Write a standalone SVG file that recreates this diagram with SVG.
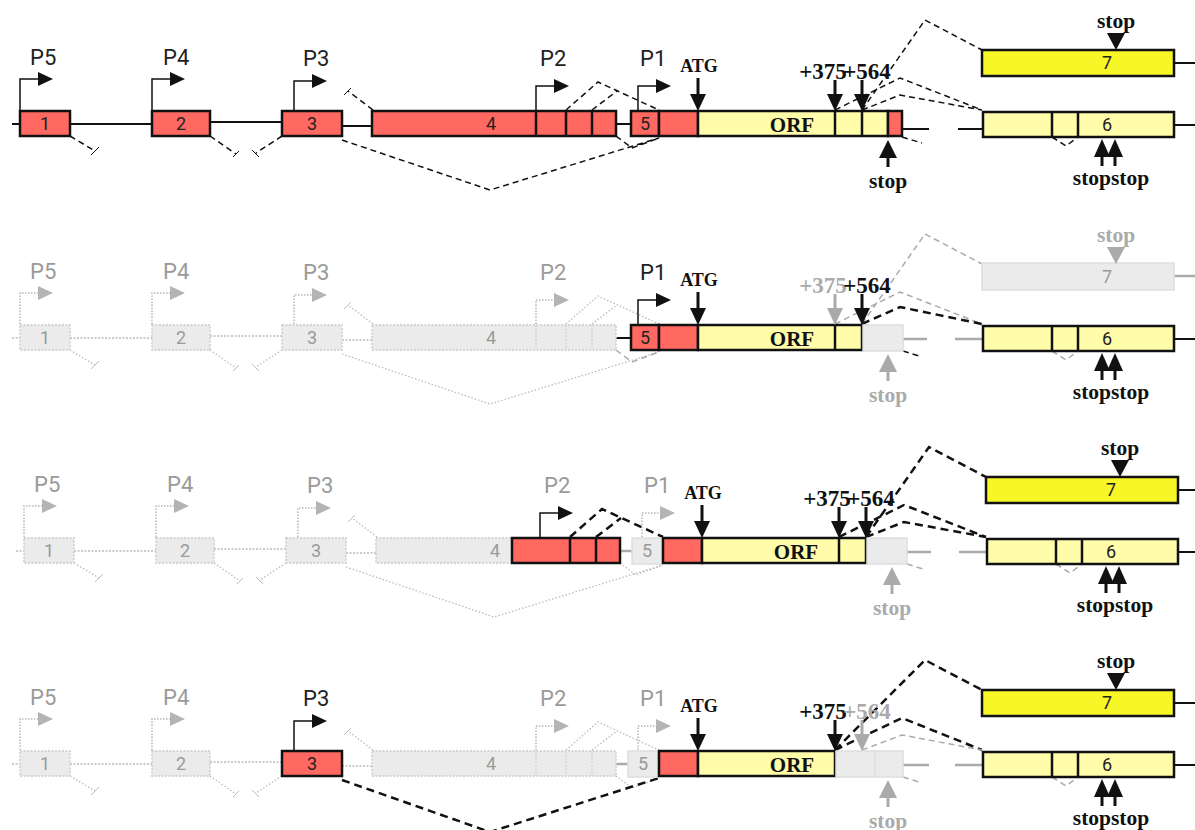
<svg xmlns="http://www.w3.org/2000/svg" width="1195" height="830" viewBox="0 0 1195 830">
<style>
.red{fill:#ff6961;stroke:#111;stroke-width:2.5}
.orf{fill:#fffcaa;stroke:#111;stroke-width:2.5}
.e7{fill:#f7f728;stroke:#111;stroke-width:2.5}
.gx{fill:#ebebeb;stroke:#d4d4d4;stroke-width:1.8;stroke-dasharray:2 1.5}
.gs{fill:#ebebeb;stroke:#dedede;stroke-width:1.5}
.sep{stroke:#111;stroke-width:2.5}
.gsep{stroke:#d4d4d4;stroke-width:1.5;stroke-dasharray:2 1.5}
.num{font-family:Roboto,"Noto Sans",sans-serif;font-size:18px;fill:#222;text-anchor:middle}
.gnum{font-family:Roboto,"Noto Sans",sans-serif;font-size:18px;fill:#9a9a9a;text-anchor:middle}
.pl{font-family:Roboto,"Noto Sans",sans-serif;font-size:22px;fill:#222}
.gpl{font-family:Roboto,"Noto Sans",sans-serif;font-size:22px;fill:#9a9a9a}
.pa{fill:none;stroke:#111;stroke-width:1.5}
.gpa{fill:none;stroke:#b8b8b8;stroke-width:1.5;stroke-dasharray:1.5 1.5}
.ph{fill:#111}
.gph{fill:#b4b4b4}
.lb{font-family:"Liberation Serif","Times New Roman",serif;font-weight:bold;fill:#111;text-anchor:middle}
.glb{font-family:"Liberation Serif","Times New Roman",serif;font-weight:bold;fill:#aaa;text-anchor:middle}
.atg{font-size:18px}
.pos{font-size:23px}
.orft{font-size:21px}
.st{font-size:21.5px}
.sh{stroke:#111;stroke-width:3;fill:none}
.gsh{stroke:#aaa;stroke-width:3;fill:none}
.ah{fill:#111}
.gah{fill:#aaa}
.bb{fill:none;stroke:#111;stroke-width:2}
.gbb{fill:none;stroke:#bbb;stroke-width:1.5;stroke-dasharray:2 1.5}
.gln{fill:none;stroke:#aaa;stroke-width:2.5}
.dk{fill:none;stroke:#111;stroke-width:1.5;stroke-dasharray:6 4}
.dkb{fill:none;stroke:#111;stroke-width:2.5;stroke-dasharray:8 5}
.dg{fill:none;stroke:#aaa;stroke-width:1.5;stroke-dasharray:6 4}
.dd{fill:none;stroke:#bbb;stroke-width:1.3;stroke-dasharray:1.5 2}
.tk{fill:none;stroke:#111;stroke-width:1}
.gtk{fill:none;stroke:#bbb;stroke-width:1}
</style>

<g id="connectors">
  <g id="c-row1">
    <path class="bb" d="M12,124H20 M70,124H152 M210,122H282 M342,126H372 M616,124H631 M902,129H929 M958,129H983 M1174,63H1195 M1174,125H1195"/>
    <path class="dk" d="M70,136L95,151 M210,136L236,154 M282,136L256,153 M373,110L348,91 M342,140L490,190L659,138 M616,136L632,148L659,138 M566,110L598,82L659,110 M592,110L617,91 M835,110L900,78L982,110 M862,110L900,95L982,110 M862,110L925,20L982,50 M902,137L922,143 M1052,137L1066,146L1078,137"/>
    <path class="tk" d="M91,155L99,147 M233,157L239,151 M252,150L259,157 M344,95L351,88"/>
  </g>
  <g id="c-row2" transform="translate(0,214)">
    <path class="gbb" d="M12,124H20 M70,124H152 M210,122H282 M342,126H372"/>
    <path class="bb" d="M616,124H631 M1174,125H1195"/>
    <path class="gln" d="M903,125H927 M955,125H982 M1174,62H1195"/>
    <path class="dd" d="M70,136L95,151 M210,136L236,154 M282,136L256,153 M373,110L348,91 M342,140L490,190L659,138 M566,110L598,82L659,110 M592,110L617,91"/>
    <path class="gtk" d="M91,155L99,147 M233,157L239,151 M252,150L259,157 M344,95L351,88"/>
    <path class="dg" d="M616,136L632,148L659,138 M835,110L900,78L982,110 M862,110L925,20L982,50 M1052,137L1066,146L1078,137"/>
    <path class="dkb" d="M862,110L900,93L982,110"/>
    <path class="dk" d="M903,137L922,143"/>
  </g>
  <g id="c-row3" transform="translate(4,427)">
    <path class="gbb" d="M12,124H20 M70,124H152 M210,122H282 M342,126H372"/>
    <path class="bb" d="M1174,63H1195 M1174,125H1195"/>
    <path class="gln" d="M616,124H631 M903,125H927 M955,125H982"/>
    <path class="dd" d="M70,136L95,151 M210,136L236,154 M282,136L256,153 M373,110L348,91 M342,140L490,190L659,138 M616,136L632,148L659,138"/>
    <path class="gtk" d="M91,155L99,147 M233,157L239,151 M252,150L259,157 M344,95L351,88"/>
    <path class="dkb" d="M566,110L598,82L659,110 M592,110L617,91 M835,110L900,78L982,110 M862,110L900,95L982,110 M862,110L925,20L982,50"/>
    <path class="dg" d="M903,137L922,143 M1052,137L1066,146L1078,137"/>
  </g>
  <g id="c-row4" transform="translate(0,640)">
    <path class="gbb" d="M12,124H20 M70,124H152 M210,122H282 M342,126H372"/>
    <path class="bb" d="M1174,63H1195 M1174,125H1195"/>
    <path class="gln" d="M616,124H628 M903,125H929 M955,125H982"/>
    <path class="dd" d="M70,136L95,151 M210,136L236,154 M282,136L256,153 M373,110L348,91 M566,110L598,82L659,110 M592,110L617,91 M616,136L632,148L659,138"/>
    <path class="gtk" d="M91,155L99,147 M233,157L239,151 M252,150L259,157 M344,95L351,88"/>
    <path class="dkb" d="M342,140L490,192L659,138 M835,110L925,20L982,50 M835,110L902,78L982,110"/>
    <path class="dg" d="M862,110L902,95L982,110 M903,137L922,143 M1052,137L1066,146L1078,137"/>
  </g>
</g>

<g id="row1">
  <g id="r1-P5"><path class="pa" d="M20,110V79H38"/><polygon class="ph" points="38,72 53,79 38,86"/><text class="pl" x="30" y="65">P5</text></g>
  <g id="r1-P4"><path class="pa" d="M152,110V79H170"/><polygon class="ph" points="170,72 185,79 170,86"/><text class="pl" x="163" y="65">P4</text></g>
  <g id="r1-P3"><path class="pa" d="M294,110V81H312"/><polygon class="ph" points="312,74 327,81 312,88"/><text class="pl" x="303" y="66">P3</text></g>
  <g id="r1-P2"><path class="pa" d="M536,110V86H554"/><polygon class="ph" points="554,79 569,86 554,93"/><text class="pl" x="540" y="66">P2</text></g>
  <g id="r1-P1"><path class="pa" d="M638,110V86H656"/><polygon class="ph" points="656,79 671,86 656,93"/><text class="pl" x="640" y="66">P1</text></g>
  <g id="r1-exon1"><rect class="red" x="20" y="111" width="50" height="25"/><text class="num" x="45" y="130">1</text></g>
  <g id="r1-exon2"><rect class="red" x="152" y="111" width="58" height="25"/><text class="num" x="181" y="130">2</text></g>
  <g id="r1-exon3"><rect class="red" x="282" y="111" width="60" height="25"/><text class="num" x="312" y="130">3</text></g>
  <g id="r1-exon4"><rect class="red" x="372" y="111" width="244" height="25"/><path class="sep" d="M536,111V136M566,111V136M592,111V136"/><text class="num" x="491" y="130">4</text></g>
  <g id="r1-exon5"><rect class="red" x="631" y="111" width="28" height="25"/><text class="num" x="645" y="130">5</text></g>
  <g id="r1-utr5"><rect class="red" x="659" y="111" width="39" height="25"/></g>
  <g id="r1-orf"><rect class="orf" x="698" y="111" width="190" height="25"/><path class="sep" d="M835,111V136M862,111V136"/><text class="lb orft" x="792" y="132">ORF</text></g>
  <g id="r1-utr3"><rect class="red" x="888" y="111" width="14" height="25"/></g>
  <g id="r1-exon7"><rect class="e7" x="982" y="50" width="192" height="26"/><text class="num" x="1107" y="69">7</text></g>
  <g id="r1-exon6"><rect class="orf" x="983" y="112" width="191" height="25"/><path class="sep" d="M1052,112V137M1078,112V137"/><text class="num" x="1107" y="131">6</text></g>
  <g id="r1-ATG"><text class="lb atg" x="699" y="72">ATG</text><line class="sh" x1="698" y1="78" x2="698" y2="96"/><polygon class="ah" points="690,94 706,94 698,111"/></g>
  <g id="r1-375"><text class="lb pos" x="823" y="79">+375</text><line class="sh" x1="835" y1="80" x2="835" y2="96"/><polygon class="ah" points="827,94 843,94 835,111"/></g>
  <g id="r1-564"><text class="lb pos" x="867" y="79">+564</text><line class="sh" x1="862" y1="80" x2="862" y2="96"/><polygon class="ah" points="854,94 870,94 862,111"/></g>
  <g id="r1-stop"><polygon class="ah" points="879,158 897,158 888,140"/><line class="sh" x1="888" y1="156" x2="888" y2="167"/><text class="lb st" x="888" y="188">stop</text></g>
  <g id="r1-stop7"><text class="lb st" x="1116" y="28">stop</text><polygon class="ah" points="1107,33 1125,33 1116,50"/></g>
  <g id="r1-stop6"><polygon class="ah" points="1094,157 1110,157 1102,139"/><polygon class="ah" points="1107,157 1123,157 1115,139"/><path class="sh" d="M1102,155V166M1115,155V166"/><text class="lb st" x="1111" y="185">stopstop</text></g>
</g>

<g id="row2" transform="translate(0,214)">
  <g id="r2-P5"><path class="gpa" d="M20,110V79H38"/><polygon class="gph" points="38,72 53,79 38,86"/><text class="gpl" x="30" y="65">P5</text></g>
  <g id="r2-P4"><path class="gpa" d="M152,110V79H170"/><polygon class="gph" points="170,72 185,79 170,86"/><text class="gpl" x="163" y="65">P4</text></g>
  <g id="r2-P3"><path class="gpa" d="M294,110V81H312"/><polygon class="gph" points="312,74 327,81 312,88"/><text class="gpl" x="303" y="66">P3</text></g>
  <g id="r2-P2"><path class="gpa" d="M536,110V86H554"/><polygon class="gph" points="554,79 569,86 554,93"/><text class="gpl" x="540" y="66">P2</text></g>
  <g id="r2-P1"><path class="pa" d="M638,110V86H656"/><polygon class="ph" points="656,79 671,86 656,93"/><text class="pl" x="640" y="66">P1</text></g>
  <g id="r2-exon1"><rect class="gx" x="20" y="111" width="50" height="25"/><text class="gnum" x="45" y="130">1</text></g>
  <g id="r2-exon2"><rect class="gx" x="152" y="111" width="58" height="25"/><text class="gnum" x="181" y="130">2</text></g>
  <g id="r2-exon3"><rect class="gx" x="282" y="111" width="60" height="25"/><text class="gnum" x="312" y="130">3</text></g>
  <g id="r2-exon4"><rect class="gx" x="372" y="111" width="244" height="25"/><path class="gsep" d="M536,111V136M566,111V136M592,111V136"/><text class="gnum" x="491" y="130">4</text></g>
  <g id="r2-exon5"><rect class="red" x="631" y="111" width="28" height="25"/><text class="num" x="645" y="130">5</text></g>
  <g id="r2-utr5"><rect class="red" x="659" y="111" width="39" height="25"/></g>
  <g id="r2-orf"><rect class="orf" x="698" y="111" width="164" height="25"/><path class="sep" d="M835,111V136"/><text class="lb orft" x="792" y="132">ORF</text></g>
  <g id="r2-utr3"><rect class="gs" x="863" y="111" width="40" height="26"/></g>
  <g id="r2-exon7"><rect class="gs" x="982" y="49" width="192" height="27"/><text class="gnum" x="1107" y="69">7</text></g>
  <g id="r2-exon6"><rect class="orf" x="983" y="112" width="191" height="25"/><path class="sep" d="M1052,112V137M1078,112V137"/><text class="num" x="1107" y="131">6</text></g>
  <g id="r2-ATG"><text class="lb atg" x="699" y="72">ATG</text><line class="sh" x1="698" y1="78" x2="698" y2="96"/><polygon class="ah" points="690,94 706,94 698,111"/></g>
  <g id="r2-375"><text class="glb pos" x="823" y="79">+375</text><line class="gsh" x1="835" y1="80" x2="835" y2="96"/><polygon class="gah" points="827,94 843,94 835,111"/></g>
  <g id="r2-564"><text class="lb pos" x="867" y="79">+564</text><line class="sh" x1="862" y1="80" x2="862" y2="96"/><polygon class="ah" points="854,94 870,94 862,111"/></g>
  <g id="r2-stop"><polygon class="gah" points="879,158 897,158 888,140"/><line class="gsh" x1="888" y1="156" x2="888" y2="167"/><text class="glb st" x="888" y="188">stop</text></g>
  <g id="r2-stop7"><text class="glb st" x="1116" y="28">stop</text><polygon class="gah" points="1107,33 1125,33 1116,50"/></g>
  <g id="r2-stop6"><polygon class="ah" points="1094,157 1110,157 1102,139"/><polygon class="ah" points="1107,157 1123,157 1115,139"/><path class="sh" d="M1102,155V166M1115,155V166"/><text class="lb st" x="1111" y="185">stopstop</text></g>
</g>

<g id="row3" transform="translate(4,427)">
  <g id="r3-P5"><path class="gpa" d="M20,110V79H38"/><polygon class="gph" points="38,72 53,79 38,86"/><text class="gpl" x="30" y="65">P5</text></g>
  <g id="r3-P4"><path class="gpa" d="M152,110V79H170"/><polygon class="gph" points="170,72 185,79 170,86"/><text class="gpl" x="163" y="65">P4</text></g>
  <g id="r3-P3"><path class="gpa" d="M294,110V81H312"/><polygon class="gph" points="312,74 327,81 312,88"/><text class="gpl" x="303" y="66">P3</text></g>
  <g id="r3-P2"><path class="pa" d="M536,110V86H554"/><polygon class="ph" points="554,79 569,86 554,93"/><text class="gpl" x="540" y="66">P2</text></g>
  <g id="r3-P1"><path class="gpa" d="M638,110V86H656"/><polygon class="gph" points="656,79 671,86 656,93"/><text class="gpl" x="640" y="66">P1</text></g>
  <g id="r3-exon1"><rect class="gx" x="20" y="111" width="50" height="25"/><text class="gnum" x="45" y="130">1</text></g>
  <g id="r3-exon2"><rect class="gx" x="152" y="111" width="58" height="25"/><text class="gnum" x="181" y="130">2</text></g>
  <g id="r3-exon3"><rect class="gx" x="282" y="111" width="60" height="25"/><text class="gnum" x="312" y="130">3</text></g>
  <g id="r3-exon4a"><rect class="gx" x="372" y="111" width="136" height="25"/><text class="gnum" x="491" y="130">4</text></g>
  <g id="r3-exon4b"><rect class="red" x="508" y="111" width="108" height="25"/><path class="sep" d="M566,111V136M592,111V136"/></g>
  <g id="r3-exon5"><rect class="gs" x="628" y="111" width="30" height="26"/><text class="gnum" x="643" y="130">5</text></g>
  <g id="r3-utr5"><rect class="red" x="659" y="111" width="39" height="25"/></g>
  <g id="r3-orf"><rect class="orf" x="698" y="111" width="164" height="25"/><path class="sep" d="M835,111V136"/><text class="lb orft" x="792" y="132">ORF</text></g>
  <g id="r3-utr3"><rect class="gs" x="863" y="111" width="40" height="26"/></g>
  <g id="r3-exon7"><rect class="e7" x="982" y="50" width="192" height="26"/><text class="num" x="1107" y="69">7</text></g>
  <g id="r3-exon6"><rect class="orf" x="983" y="112" width="191" height="25"/><path class="sep" d="M1052,112V137M1078,112V137"/><text class="num" x="1107" y="131">6</text></g>
  <g id="r3-ATG"><text class="lb atg" x="699" y="72">ATG</text><line class="sh" x1="698" y1="78" x2="698" y2="96"/><polygon class="ah" points="690,94 706,94 698,111"/></g>
  <g id="r3-375"><text class="lb pos" x="823" y="79">+375</text><line class="sh" x1="835" y1="80" x2="835" y2="96"/><polygon class="ah" points="827,94 843,94 835,111"/></g>
  <g id="r3-564"><text class="lb pos" x="867" y="79">+564</text><line class="sh" x1="862" y1="80" x2="862" y2="96"/><polygon class="ah" points="854,94 870,94 862,111"/></g>
  <g id="r3-stop"><polygon class="gah" points="879,158 897,158 888,140"/><line class="gsh" x1="888" y1="156" x2="888" y2="167"/><text class="glb st" x="888" y="188">stop</text></g>
  <g id="r3-stop7"><text class="lb st" x="1116" y="28">stop</text><polygon class="ah" points="1107,33 1125,33 1116,50"/></g>
  <g id="r3-stop6"><polygon class="ah" points="1094,157 1110,157 1102,139"/><polygon class="ah" points="1107,157 1123,157 1115,139"/><path class="sh" d="M1102,155V166M1115,155V166"/><text class="lb st" x="1111" y="185">stopstop</text></g>
</g>

<g id="row4" transform="translate(0,640)">
  <g id="r4-P5"><path class="gpa" d="M20,110V79H38"/><polygon class="gph" points="38,72 53,79 38,86"/><text class="gpl" x="30" y="65">P5</text></g>
  <g id="r4-P4"><path class="gpa" d="M152,110V79H170"/><polygon class="gph" points="170,72 185,79 170,86"/><text class="gpl" x="163" y="65">P4</text></g>
  <g id="r4-P3"><path class="pa" d="M294,110V81H312"/><polygon class="ph" points="312,74 327,81 312,88"/><text class="pl" x="303" y="66">P3</text></g>
  <g id="r4-P2"><path class="gpa" d="M536,110V86H554"/><polygon class="gph" points="554,79 569,86 554,93"/><text class="gpl" x="540" y="66">P2</text></g>
  <g id="r4-P1"><path class="gpa" d="M638,110V86H656"/><polygon class="gph" points="656,79 671,86 656,93"/><text class="gpl" x="640" y="66">P1</text></g>
  <g id="r4-exon1"><rect class="gx" x="20" y="111" width="50" height="25"/><text class="gnum" x="45" y="130">1</text></g>
  <g id="r4-exon2"><rect class="gx" x="152" y="111" width="58" height="25"/><text class="gnum" x="181" y="130">2</text></g>
  <g id="r4-exon3"><rect class="red" x="282" y="111" width="60" height="25"/><text class="num" x="312" y="130">3</text></g>
  <g id="r4-exon4"><rect class="gx" x="372" y="111" width="244" height="25"/><path class="gsep" d="M536,111V136M566,111V136M592,111V136"/><text class="gnum" x="491" y="130">4</text></g>
  <g id="r4-exon5"><rect class="gs" x="628" y="111" width="30" height="26"/><text class="gnum" x="643" y="130">5</text></g>
  <g id="r4-utr5"><rect class="red" x="659" y="111" width="39" height="25"/></g>
  <g id="r4-orf"><rect class="orf" x="698" y="111" width="137" height="25"/><text class="lb orft" x="792" y="132">ORF</text></g>
  <g id="r4-ex375"><rect class="gs" x="836" y="111" width="39" height="26"/></g>
  <g id="r4-utr3"><rect class="gs" x="875" y="111" width="28" height="26"/></g>
  <g id="r4-exon7"><rect class="e7" x="982" y="50" width="192" height="26"/><text class="num" x="1107" y="69">7</text></g>
  <g id="r4-exon6"><rect class="orf" x="983" y="112" width="191" height="25"/><path class="sep" d="M1052,112V137M1078,112V137"/><text class="num" x="1107" y="131">6</text></g>
  <g id="r4-ATG"><text class="lb atg" x="699" y="72">ATG</text><line class="sh" x1="698" y1="78" x2="698" y2="96"/><polygon class="ah" points="690,94 706,94 698,111"/></g>
  <g id="r4-375"><text class="lb pos" x="823" y="79">+375</text><line class="sh" x1="835" y1="80" x2="835" y2="96"/><polygon class="ah" points="827,94 843,94 835,111"/></g>
  <g id="r4-564"><text class="glb pos" x="867" y="79">+564</text><line class="gsh" x1="862" y1="80" x2="862" y2="96"/><polygon class="gah" points="854,94 870,94 862,111"/></g>
  <g id="r4-stop"><polygon class="gah" points="879,158 897,158 888,140"/><line class="gsh" x1="888" y1="156" x2="888" y2="167"/><text class="glb st" x="888" y="188">stop</text></g>
  <g id="r4-stop7"><text class="lb st" x="1116" y="28">stop</text><polygon class="ah" points="1107,33 1125,33 1116,50"/></g>
  <g id="r4-stop6"><polygon class="ah" points="1094,157 1110,157 1102,139"/><polygon class="ah" points="1107,157 1123,157 1115,139"/><path class="sh" d="M1102,155V166M1115,155V166"/><text class="lb st" x="1111" y="185">stopstop</text></g>
</g>
</svg>
